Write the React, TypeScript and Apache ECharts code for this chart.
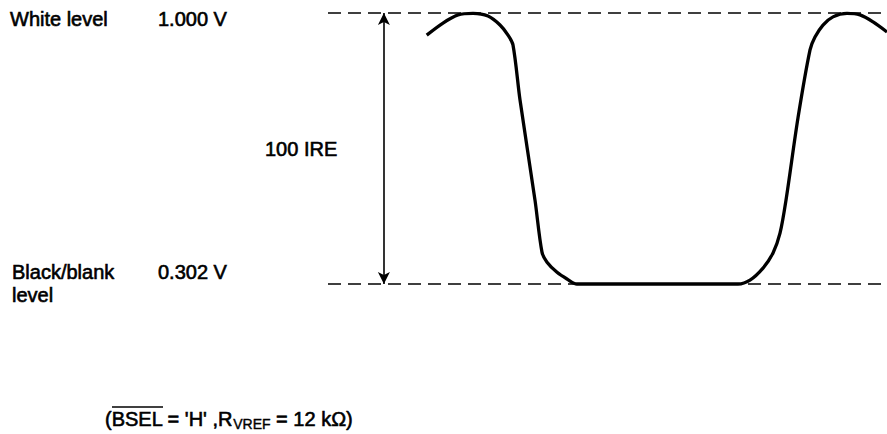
import React, { useEffect, useRef } from "react";
import * as echarts from "echarts";

// Time axis (arbitrary units 0..100) and signal voltage (V)
const waveT = [17.66, 20.57, 23.26, 25.94, 28.62, 30.77, 32.2, 33.09, 34.35, 37.03, 38.28, 39.18, 40.97, 42.75, 44.54, 73.35, 75.49, 77.82, 79.61, 80.86, 81.93, 84.08, 86.23, 87.12, 88.55, 90.34, 92.84, 95.17, 97.5, 100];
const waveV = [0.943, 0.974, 0.995, 0.999, 0.992, 0.969, 0.943, 0.918, 0.776, 0.518, 0.384, 0.358, 0.332, 0.315, 0.302, 0.302, 0.312, 0.343, 0.382, 0.433, 0.518, 0.73, 0.905, 0.938, 0.969, 0.99, 0.999, 0.995, 0.977, 0.951];

const levelVolts = [1.0, 0.302];
const levelNames = ["White level", "Black/blank", "level"];
const levelLabels = ["1.000 V", "0.302 V"];
const spanLabel = "100 IRE";
const arrowT = 10;
const levelT = [0, 100];
const noteParts = ["(BSEL = 'H' ,R", "VREF", " = 12 k\u03A9)"];

const FONT = "'Liberation Sans', Arial, Helvetica, sans-serif";

export default function App() {
  const ref = useRef<HTMLDivElement>(null);
  useEffect(() => {
    if (!ref.current) return;
    const chart = echarts.init(ref.current, null, { renderer: "svg" });
    const textStyle = (t: string) => ({
      text: t,
      fill: "#000",
      font: `20px ${FONT}`,
      verticalAlign: "middle",
      stroke: "#000",
      lineWidth: 0.6,
    });
    const levelSeries = levelVolts.map((v) => ({
      type: "line",
      data: levelT.map((t) => [t, v]),
      symbol: "none",
      silent: true,
      clip: false,
      lineStyle: { color: "#000", width: 1.7, type: [13, 7] },
      z: 1,
    }));
    chart.setOption({
      animation: false,
      backgroundColor: "#fff",
      grid: { left: 328, right: 0, top: 13, bottom: 150 },
      xAxis: { type: "value", min: 0, max: 100, show: false },
      yAxis: { type: "value", min: levelVolts[1], max: levelVolts[0], show: false },
      series: [
        ...levelSeries,
        {
          type: "line",
          data: waveT.map((t, i) => [t, waveV[i]]),
          smooth: 0.3,
          showSymbol: false,
          symbol: "none",
          clip: false,
          lineStyle: { color: "#000", width: 3.3 },
          z: 3,
        },
        {
          type: "line",
          data: [],
          markLine: {
            silent: true,
            symbol: ["arrow", "arrow"],
            symbolSize: [9, 12],
            label: { show: false },
            lineStyle: { color: "#000", width: 1.6, type: "solid" },
            data: [[{ coord: [arrowT, levelVolts[0]] }, { coord: [arrowT, levelVolts[1]] }]],
          },
        },
      ],
      graphic: [
        { type: "text", x: 10, y: 19, style: textStyle(levelNames[0]) },
        { type: "text", x: 158, y: 19, style: textStyle(levelLabels[0]) },
        { type: "text", x: 12, y: 272, style: textStyle(levelNames[1]) },
        { type: "text", x: 12, y: 295, style: textStyle(levelNames[2]) },
        { type: "text", x: 158, y: 272, style: textStyle(levelLabels[1]) },
        { type: "text", x: 265, y: 149, style: textStyle(spanLabel) },
        {
          type: "text",
          x: 105,
          y: 407,
          style: {
            text: `{a|${noteParts[0]}}{s|${noteParts[1]}}{a|${noteParts[2]}}`,
            fill: "#000",
            verticalAlign: "top",
            rich: {
              a: { fontSize: 20, fontFamily: FONT, lineHeight: 24, verticalAlign: "middle", fill: "#000", stroke: "#000", lineWidth: 0.6 },
              s: { fontSize: 14, fontFamily: FONT, lineHeight: 10, verticalAlign: "bottom", fill: "#000", stroke: "#000", lineWidth: 0.4 },
            },
          },
        },
        { type: "line", shape: { x1: 112, y1: 407, x2: 163, y2: 407 }, style: { stroke: "#000", lineWidth: 1.5 } },
      ],
    });
    return () => chart.dispose();
  }, []);
  return <div ref={ref} style={{ position: "fixed", left: 0, top: 0, width: 887, height: 434 }} />;
}
